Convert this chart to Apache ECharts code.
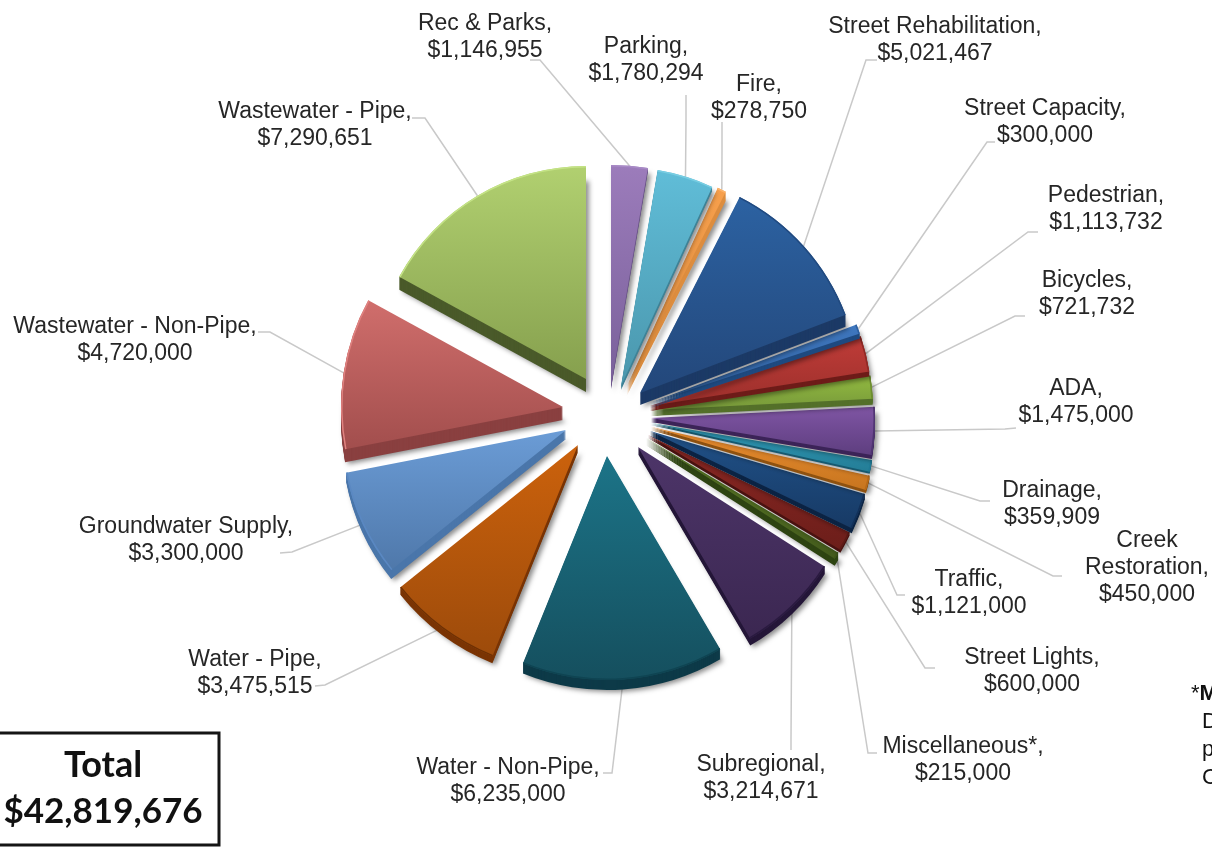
<!DOCTYPE html>
<html>
<head>
<meta charset="utf-8">
<title>Capital budget by category</title>
<script src="https://cdn.jsdelivr.net/npm/echarts@6/dist/echarts.min.js"></script>
<style>
html,body{margin:0;padding:0;background:#fff;overflow:hidden}
#chart{width:1212px;height:848px}
</style>
</head>
<body>
<div id="chart"></div>
<script>
// Budget categories, clockwise from twelve o'clock.
const categories = ['Rec & Parks','Parking','Fire','Street Rehabilitation','Street Capacity','Pedestrian','Bicycles','ADA','Drainage','Creek\nRestoration','Traffic','Street Lights','Miscellaneous*','Subregional','Water - Non-Pipe','Water - Pipe','Groundwater Supply','Wastewater - Non-Pipe','Wastewater - Pipe'];
const amounts = [1146955,1780294,278750,5021467,300000,1113732,721732,1475000,359909,450000,1121000,600000,215000,3214671,6235000,3475515,3300000,4720000,7290651];
const totalLabel = ['Total','$42,819,676'];
const footnoteLines = ['*{b|M}','D','p','C'];

// Tip of each exploded wedge, its radius and wall height, in pixels.
const tipX = [611,621,627,640,650,650,651,651,651,651,650,648,646,638,607,578,566,563,586];
const tipY = [385,386,386,393,403,406,410,418,423,427,431,435,438,447,456,445,430,407,379];
const wedgeR = [220,219,218,220,221,222,222,224,224,224,224,224,224,222,224,228,224,222,213];
const wallDepth = [4,4,9,12,5,5,6,4,2,3,5,3,7,7,10,7,9,13,13];

// Top face gradient (upper, lower), side wall and outer rim colours.
const faceTop = ['#9c7cbb','#60bdd8','#f8a04c','#2c62a2','#3f78c0','#c03c38','#93bb40','#7f55a4','#2f9dbb','#ec8e30','#205188','#8c2723','#5f8026','#4d3569','#1c7488','#cc620c','#6b9cd6','#d06e6c','#b1d070'];
const faceBottom = ['#79609a','#4a96ac','#d8893e','#23477a','#2e5f9e','#9b2f2b','#76983a','#5e3e7f','#247d96','#c7751f','#173a65','#6c1e1a','#435a1c','#3b2751','#154f5e','#9d4b0b','#4f78aa','#a24e4d','#86a04e'];
const sideColor = ['#6a5488','#3f8296','#dd8d3f','#1c3a66','#1f4a80','#6e1c19','#54702a','#3c2458','#175a70','#8f5210','#0c2444','#4a1210','#2e4412','#241638','#0d3a48','#7a3404','#4a76aa','#8a4040','#4a5a2a'];
const rimColor = ['#a88ac6','#78cde2','#fbb46c','#214a80','#2e5f9e','#8e2a26','#6e8e30','#4e3470','#1f7a96','#b86a18','#123058','#5c1a16','#3e5618','#2a1a40','#0f4452','#6e3004','#5a88c2','#e08280','#c4e386'];

// Where each label sits, and the bend and end of its leader line.
const labelAt = [[485,37],[646,60],[759,98],[935,40],[1045,122],[1106,209],[1087,294],[1076,402],[1052,504],[1147,568],[969,593],[1032,671],[963,760],[761,778],[508,781],[255,673],[186,540],[135,340],[315,125]];
const leaderBend = [[540,60],[686,120],[722,150],[866,60],[987,142],[1028,232],[1015,316],[1005,429],[980,501],[1053,576],[897,595],[925,668],[868,753],[791,740],[612,773],[325,685],[292,552],[270,332],[425,118]];
const leaderEnd = [[530,60],[686,95],[722,122],[877,60],[995,142],[1038,232],[1025,316],[1016,428],[990,501],[1062,576],[905,595],[935,668],[877,753],[791,750],[603,773],[315,686],[280,553],[258,332],[412,118]];

const LABEL_FONT = 'Liberation Sans';

const money = v => '$' + v.toLocaleString('en-US');
const hidden = {color: 'rgba(0,0,0,0)', borderWidth: 0};

// One pie per wedge: the other wedges stay in the data so that angles are shared.
function wedgeSeries(i, dy, radius, style, withLabel) {
  return {
    type: 'pie',
    animation: false,
    silent: true,
    startAngle: 90,
    clockwise: true,
    avoidLabelOverlap: false,
    minAngle: 0,
    center: [tipX[i], tipY[i] + dy],
    radius: radius,
    label: {show: false},
    labelLine: {show: false},
    emphasis: {disabled: true},
    data: amounts.map((v, k) => {
      const item = {name: categories[k], value: v, itemStyle: k === i ? style : hidden};
      if (k === i && withLabel) {
        item.label = {
          show: true,
          position: 'outside',
          formatter: categories[k] + ',\n' + money(v),
          fontFamily: LABEL_FONT,
          fontSize: 23,
          lineHeight: 27,
          color: '#262626',
          align: 'center'
        };
        item.labelLine = {show: true, lineStyle: {color: '#c9c9c9', width: 1.5}};
      }
      return item;
    }),
    labelLayout: withLabel ? function (p) {
      if (p.dataIndex !== i) return {};
      const anchor = p.labelLinePoints ? p.labelLinePoints[0] : leaderBend[i];
      return {
        x: labelAt[i][0],
        y: labelAt[i][1],
        align: 'center',
        verticalAlign: 'middle',
        labelLinePoints: [anchor, leaderBend[i], leaderEnd[i]]
      };
    } : undefined
  };
}

const series = [];
for (let i = amounts.length - 1; i >= 0; i--) {
  // The wall is a stack of copies stepping down under the top face.
  for (let d = wallDepth[i]; d > 0; d -= 1) {
    const style = {color: sideColor[i]};
    if (d === wallDepth[i]) {
      style.shadowColor = 'rgba(0,0,0,0.45)';
      style.shadowBlur = 5;
      style.shadowOffsetX = 3;
      style.shadowOffsetY = 2;
    }
    series.push(wedgeSeries(i, d, [0, wedgeR[i]], style, false));
  }
  series.push(wedgeSeries(i, 0, [0, wedgeR[i]], {
    color: {type: 'linear', x: 0, y: 0, x2: 0, y2: 1, colorStops: [
      {offset: 0, color: faceTop[i]},
      {offset: 1, color: faceBottom[i]}
    ]}
  }, true));
  series.push(wedgeSeries(i, 0, [wedgeR[i] - 1.5, wedgeR[i]], {color: rimColor[i]}, false));
}

const chart = echarts.init(document.getElementById('chart'), null, {renderer: 'canvas'});
chart.setOption({
  backgroundColor: '#ffffff',
  animation: false,
  series: series,
  graphic: [
    {type: 'rect', silent: true, shape: {x: -6, y: 733, width: 225, height: 112},
      style: {fill: '#fff', stroke: '#151515', lineWidth: 3}},
    {type: 'text', silent: true, x: 103, y: 765, style: {text: totalLabel[0], fontFamily: 'Lato', fontWeight: 'bold', fontSize: 36, fill: '#111', align: 'center', verticalAlign: 'middle'}},
    {type: 'text', silent: true, x: 103, y: 812, style: {text: totalLabel[1], fontFamily: 'Lato', fontWeight: 'bold', fontSize: 35, fill: '#111', align: 'center', verticalAlign: 'middle'}}
  ].concat(footnoteLines.map((line, k) => ({
    type: 'text', silent: true, x: k === 0 ? 1191 : 1202, y: 694 + k * 28,
    style: {
      text: line,
      fontFamily: LABEL_FONT, fontSize: 22, fill: '#111',
      verticalAlign: 'middle',
      rich: {b: {fontFamily: LABEL_FONT, fontSize: 22, fontWeight: 'bold', fill: '#111'}}
    }
  })))
});
</script>
</body>
</html>
